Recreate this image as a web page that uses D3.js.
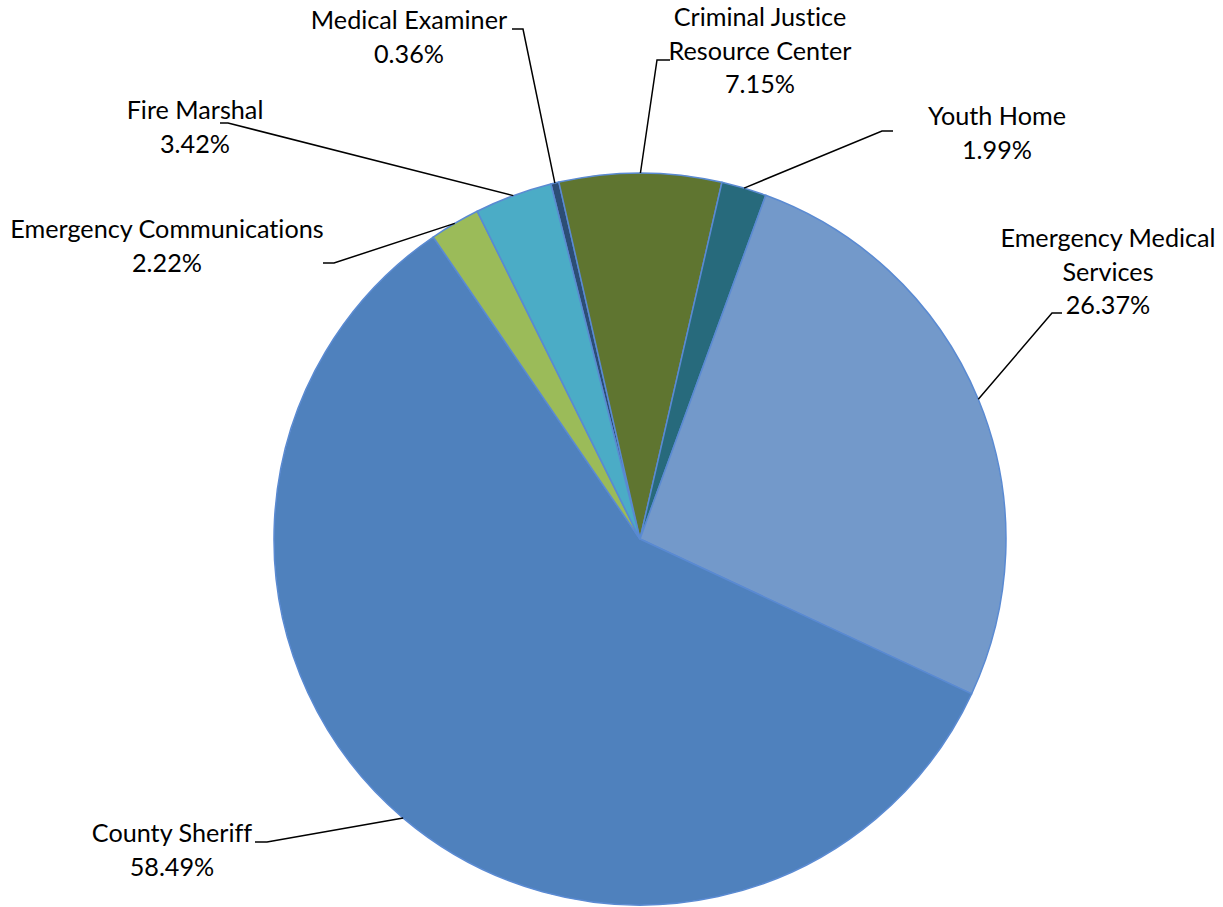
<!DOCTYPE html>
<html>
<head>
<meta charset="utf-8">
<script src="https://cdn.jsdelivr.net/npm/d3@7"></script>
<style>
  body { margin: 0; background: #fff; }
  svg text { font-family: Lato, "Open Sans", sans-serif; fill: #000; font-variant-ligatures: none; }
</style>
</head>
<body>
<script>
// departments in clockwise order, starting just left of 12 o'clock
const departments = [
  'Medical Examiner',
  'Criminal Justice Resource Center',
  'Youth Home',
  'Emergency Medical Services',
  'County Sheriff',
  'Emergency Communications',
  'Fire Marshal',
];
const shares = [0.36, 7.15, 1.99, 26.37, 58.49, 2.22, 3.42];
const labelLines = [
  ['Medical Examiner'],
  ['Criminal Justice', 'Resource Center'],
  ['Youth Home'],
  ['Emergency Medical', 'Services'],
  ['County Sheriff'],
  ['Emergency Communications'],
  ['Fire Marshal'],
];
const colors = ['#2c4d75', '#5f7530', '#276a7c', '#7399ca', '#4f81bd', '#9bbb59', '#4bacc6'];

const width = 1223;
const height = 907;
const cx = 640;
const cy = 539;
const radius = 366;
const fontSize = 25.2;
const lineGap = 33.5;

// label placement: text centre x, first baseline y, elbow point of leader
const layout = [
  { x: 409, y: 29, elbow: [[512, 29], [523, 29]] },
  { x: 760, y: 26, elbow: [[670, 60], [657, 60]] },
  { x: 997, y: 125, elbow: [[893, 131], [882, 131]] },
  { x: 1108, y: 247, elbow: [[1062, 313], [1052, 313]] },
  { x: 172, y: 842, elbow: [[255, 842], [267, 842]] },
  { x: 167, y: 238, elbow: [[323, 263], [334, 263]] },
  { x: 195, y: 119, elbow: [[220, 123], [228, 123]] },
];

const data = departments.map((name, i) => ({
  name,
  value: shares[i],
  lines: labelLines[i],
  color: colors[i],
  pos: layout[i],
}));

const svg = d3.select('body')
  .append('svg')
  .attr('width', width)
  .attr('height', height);

const pie = d3.pie()
  .sort(null)
  .value(d => d.value)
  .startAngle(-14.1 * Math.PI / 180)
  .endAngle((360 - 14.1) * Math.PI / 180);

const arc = d3.arc()
  .innerRadius(0)
  .outerRadius(radius);

const arcs = pie(data);

const g = svg.append('g')
  .attr('transform', `translate(${cx}, ${cy})`);

g.selectAll('path.slice')
  .data(arcs)
  .enter()
  .append('path')
  .attr('class', 'slice')
  .attr('d', arc)
  .attr('fill', d => d.data.color)
  .attr('stroke', '#5a8ad2')
  .attr('stroke-width', 1.5)
  .attr('stroke-linejoin', 'round');

// leader lines: from label elbow to the slice's mid angle on the rim
const line = d3.line();
svg.selectAll('path.leader')
  .data(arcs)
  .enter()
  .append('path')
  .attr('class', 'leader')
  .attr('d', d => {
    const mid = (d.startAngle + d.endAngle) / 2;
    const rim = [cx + radius * Math.sin(mid), cy - radius * Math.cos(mid)];
    return line([...d.data.pos.elbow, rim]);
  })
  .attr('fill', 'none')
  .attr('stroke', '#000')
  .attr('stroke-width', 1.5);

const labels = svg.selectAll('text.label')
  .data(data)
  .enter()
  .append('text')
  .attr('class', 'label')
  .attr('text-anchor', 'middle')
  .attr('font-size', fontSize);

labels.each(function (d) {
  const t = d3.select(this);
  const rows = [...d.lines, `${d.value.toFixed(2)}%`];
  rows.forEach((row, i) => {
    t.append('tspan')
      .attr('x', d.pos.x)
      .attr('y', d.pos.y + i * lineGap)
      .text(row);
  });
});
</script>
</body>
</html>
